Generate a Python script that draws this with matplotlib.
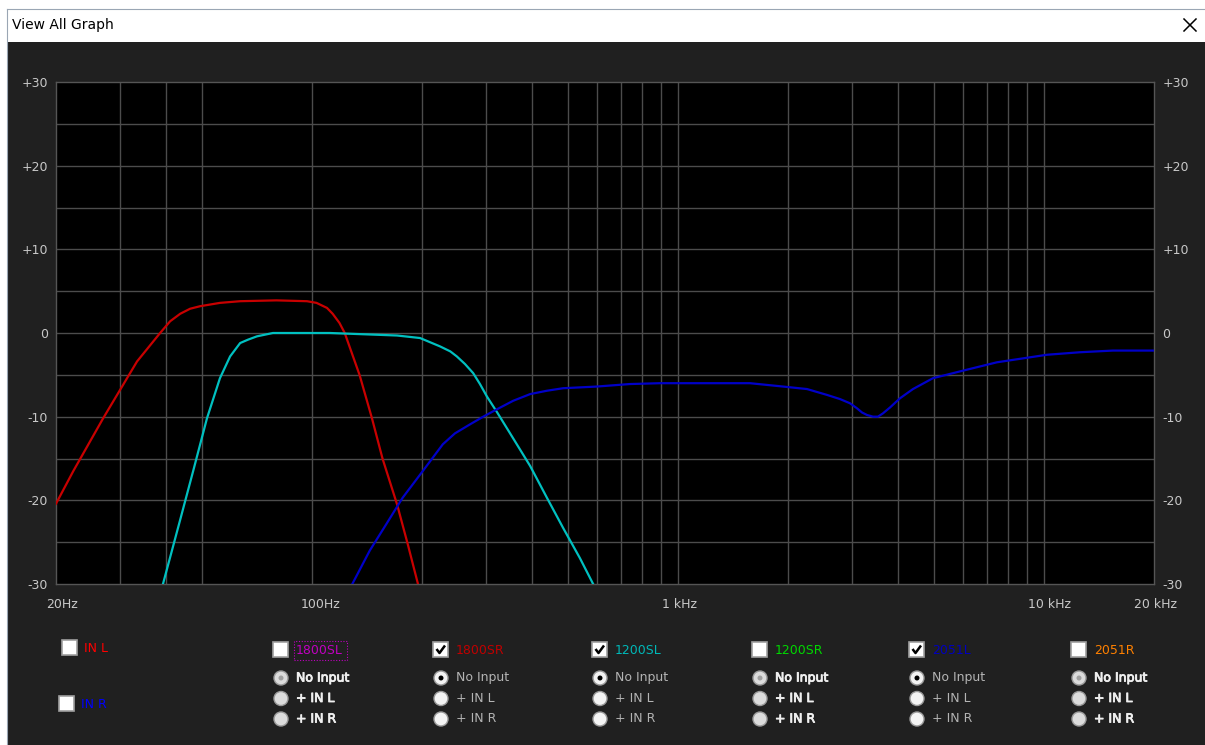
import matplotlib
matplotlib.use("Agg")
import matplotlib.pyplot as plt
from matplotlib.patches import Rectangle, Ellipse
from matplotlib.lines import Line2D
from matplotlib.ticker import NullLocator
import matplotlib.transforms as mtransforms
import matplotlib.patheffects as pe

# ---------------- data ----------------
red_freq = [20.0, 22.3, 26.9, 33.3, 38.5, 41.0, 43.7, 46.5, 49.5, 56.1, 63.7,
            80, 97, 103, 110, 114, 119, 123, 135, 146, 156, 171, 183, 195]
red_db = [-20.4, -16.5, -10.2, -3.4, 0.0, 1.4, 2.3, 2.9, 3.2, 3.6, 3.8,
          3.9, 3.8, 3.6, 3.0, 2.3, 1.2, 0.0, -5.0, -10.2, -15.0, -20.5,
          -25.3, -30.0]

cyan_freq = [39.2, 43.7, 47.4, 51.7, 56.1, 59.8, 63.7, 66.9, 70.8, 78.3, 112,
             171, 197.5, 224, 239, 249, 262, 276, 288, 301, 321, 355, 395,
             439, 486, 540, 587]
cyan_db = [-30.0, -22.3, -16.5, -10.2, -5.4, -2.8, -1.2, -0.8, -0.4, 0.0, 0.0,
           -0.3, -0.6, -1.6, -2.2, -2.8, -3.7, -4.8, -6.1, -7.6, -9.5, -12.6,
           -15.9, -19.7, -23.3, -26.9, -30.0]

blue_freq = [129, 144, 160, 177, 201, 228, 246, 271, 294, 321, 355, 395, 439,
             486, 601, 740, 894, 1575, 1938, 2254, 2556, 2775, 2954, 3087,
             3186, 3288, 3414, 3522, 3636, 3800, 4046, 4390, 4980, 6014, 7448,
             10200, 12560, 15450, 20000]
blue_db = [-30.0, -26.0, -22.8, -19.7, -16.5, -13.3, -12.0, -10.9, -10.0,
           -9.1, -8.1, -7.3, -6.9, -6.6, -6.4, -6.1, -6.0, -6.0, -6.4, -6.7,
           -7.4, -7.9, -8.4, -9.0, -9.5, -9.8, -10.0, -10.0, -9.6, -8.9, -7.8,
           -6.7, -5.4, -4.5, -3.5, -2.6, -2.3, -2.1, -2.1]

grid_freqs = [30, 40, 50, 100, 200, 300, 400, 500, 600, 700, 800, 900, 1000,
              2000, 3000, 4000, 5000, 6000, 7000, 8000, 9000, 10000]
grid_db = list(range(-25, 30, 5))

y_ticks = [-30, -20, -10, 0, 10, 20, 30]
y_labels = ["-30", "-20", "-10", "0", "+10", "+20", "+30"]
x_ticks = [20, 100, 1000, 10000, 20000]
x_labels = ["20Hz", "100Hz", "1 kHz", "10 kHz", "20 kHz"]

groups = ["1800SL", "1800SR", "1200SL", "1200SR", "2051L", "2051R"]
group_colors = ["#c000c0", "#c00000", "#00b8b8", "#00d800", "#0000c0", "#ff8000"]
group_checked = [False, True, True, False, True, False]
radio_labels = ["No Input", "+ IN L", "+ IN R"]
inputs = ["IN L", "IN R"]
input_colors = ["#ff0000", "#0000ff"]

# ---------------- figure ----------------
W, H = 1205, 745
fig = plt.figure(figsize=(W / 100, H / 100), dpi=100, facecolor="#202020")


def fx(x):
    return x / W


def fy(y):
    return 1 - y / H


def rect(x, y, w, h, **kw):
    fig.patches.append(Rectangle((fx(x), fy(y + h)), w / W, h / H,
                                 transform=fig.transFigure, **kw))


def line(xs, ys, **kw):
    fig.lines.append(Line2D([fx(v) for v in xs], [fy(v) for v in ys],
                            transform=fig.transFigure, **kw))


# window chrome
rect(0, 0, 7, H, facecolor="white", edgecolor="none")
rect(0, 0, W, 42, facecolor="white", edgecolor="none")
line([7, W], [8.5, 8.5], color="#9aa6b4", lw=0.8)
line([7, 7], [8.5, H], color="#9aa6b4", lw=0.8)
fig.text(fx(12), fy(25), "View All Graph", fontsize=10, color="black",
         va="center", ha="left")
line([1184, 1196], [19, 31], color="black", lw=1.1)
line([1184, 1196], [31, 19], color="black", lw=1.1)

# ---------------- plot axes ----------------
ax = fig.add_axes([fx(56), fy(584), 1098 / W, 502 / H])
ax.set_facecolor("black")
ax.set_xscale("log")
ax.set_xlim(20, 20000)
ax.set_ylim(-30, 30)
for f in grid_freqs:
    ax.axvline(f, color="#4c4c4c", lw=1.0, zorder=1)
for d in grid_db:
    ax.axhline(d, color="#4c4c4c", lw=1.0, zorder=1)
for s in ax.spines.values():
    s.set_color("#555555")
    s.set_linewidth(1.0)

ax.plot(red_freq, red_db, color="#c80000", lw=1.6, zorder=3,
        solid_joinstyle="round")
ax.plot(cyan_freq, cyan_db, color="#00c0c0", lw=1.6, zorder=3,
        solid_joinstyle="round")
ax.plot(blue_freq, blue_db, color="#0000c8", lw=1.6, zorder=4,
        solid_joinstyle="round")

ax.set_yticks(y_ticks)
ax.set_yticklabels(y_labels)
ax.set_xticks(x_ticks)
ax.set_xticklabels(x_labels)
ax.xaxis.set_minor_locator(NullLocator())
ax.yaxis.set_minor_locator(NullLocator())
ax.tick_params(axis="y", length=0, pad=6, labelsize=9, labelcolor="#c8c8c8",
               labelleft=True, labelright=True)
ax.tick_params(axis="x", length=0, pad=10, labelsize=9, labelcolor="#c8c8c8")
x_offsets = [6, 9, 2, 6, 1]
for lab, off in zip(ax.get_xticklabels(), x_offsets):
    lab.set_transform(lab.get_transform() +
                      mtransforms.ScaledTranslation(off / 100, 0,
                                                    fig.dpi_scale_trans))


# ---------------- control panel ----------------
def checkbox(x, y, checked):
    rect(x, y, 15, 15, facecolor="white", edgecolor="#a0a0a0", lw=1.2)
    if checked:
        line([x + 3.5, x + 6.5, x + 12], [y + 7, y + 11, y + 3.5],
             color="black", lw=1.8, solid_capstyle="butt")


def radio(x, y, selected, enabled):
    face = "#f4f4f4" if enabled else "#dcdcdc"
    fig.patches.append(Ellipse((fx(x), fy(y)), 14 / W, 14 / H,
                               transform=fig.transFigure, facecolor=face,
                               edgecolor="#9a9a9a", lw=1.0))
    if selected:
        dot = "black" if enabled else "#a0a0a0"
        fig.patches.append(Ellipse((fx(x), fy(y)), 5 / W, 5 / H,
                                   transform=fig.transFigure, facecolor=dot,
                                   edgecolor="none"))


emboss = [pe.withStroke(linewidth=0.6, foreground="#f0f0f0")]

# input checkboxes
in_pos = [(62, 640), (59, 696)]
for (x, y), name, col in zip(in_pos, inputs, input_colors):
    checkbox(x, y, False)
    fig.text(fx(x + 22), fy(y + 8), name, color=col, fontsize=9,
             va="center", ha="left")

group_x = [273, 433, 592, 752, 909, 1071]
for gx, name, col, chk in zip(group_x, groups, group_colors, group_checked):
    checkbox(gx, 642, chk)
    fig.text(fx(gx + 23), fy(650), name, color=col, fontsize=9,
             va="center", ha="left")
    if name == "1800SL":
        fig.patches.append(Rectangle((fx(gx + 21), fy(660)), 53 / W, 19 / H,
                                     transform=fig.transFigure,
                                     facecolor="none", edgecolor="#c000c0",
                                     lw=0.8, linestyle=(0, (1, 1.5))))
    for i, rl in enumerate(radio_labels):
        ry = 678 + i * 20.5
        radio(gx + 8, ry, i == 0, chk)
        if chk:
            fig.text(fx(gx + 23), fy(ry), rl, color="#b4b4b4", fontsize=9,
                     va="center", ha="left")
        else:
            fig.text(fx(gx + 23), fy(ry), rl, color="#f0f0f0", fontsize=9,
                     va="center", ha="left", path_effects=emboss)

fig.savefig("out.png", dpi=100, facecolor=fig.get_facecolor())
